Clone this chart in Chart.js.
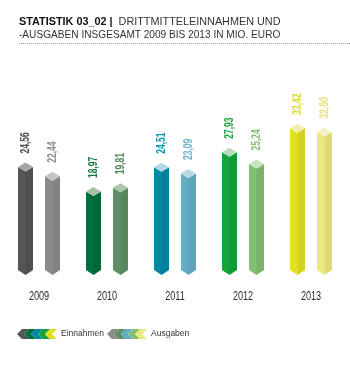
<!DOCTYPE html>
<html>
<head>
<meta charset="utf-8">
<script src="https://cdn.jsdelivr.net/npm/chart.js@4/dist/chart.umd.min.js"></script>
<style>
  body { margin: 0; background: #fff; }
  #wrap { position: relative; width: 350px; height: 374px; overflow: hidden; }
  .tline {
    position: absolute; left: 19px; white-space: nowrap;
    font: 11px "Liberation Sans", Arial, sans-serif; line-height: 13px; color: #333;
    transform-origin: left top;
  }
  .tline b { color: #111; }
  #rule { position: absolute; left: 19px; top: 43px; width: 331px; border-top: 1px dotted #999; }
  canvas { position: absolute; left: 0; top: 0; }
</style>
</head>
<body>
<div id="wrap">
  <canvas id="myChart" width="350" height="374"></canvas>
  <div class="tline" style="top:14.7px; transform:scaleX(0.985);"><b>STATISTIK 03_02 |</b>&nbsp; DRITTMITTELEINNAHMEN UND</div>
  <div class="tline" style="top:27.7px; transform:scaleX(0.92);">-AUSGABEN INSGESAMT 2009 BIS 2013 IN MIO. EURO</div>
  <div id="rule"></div>
</div>
<script>
// data
var years = ["2009", "2010", "2011", "2012", "2013"];
var einnahmen = [24.56, 18.97, 24.51, 27.93, 33.42];
var ausgaben = [22.44, 19.81, 23.09, 25.24, 32.60];
var seriesNames = ["Einnahmen", "Ausgaben"];

// colours per year
var einBody = ["#555555", "#006f3c", "#0088a4", "#14a43a", "#e1df22"];
var einCap = ["#a4a4a4", "#a9bfa8", "#b0d8e3", "#b7dfb5", "#f1efb4"];
var einLabel = ["#4d4d4d", "#137a40", "#0c93b3", "#1ba23c", "#dcdb2b"];
var ausBody = ["#8b8b8b", "#5c8f64", "#64aec5", "#82bf70", "#ebe97d"];
var ausCap = ["#c4c4c4", "#aec6ae", "#b9dae5", "#cbe4c0", "#f5f3c6"];
var ausLabel = ["#8e8e8e", "#4c8a58", "#6cb3c8", "#85bf71", "#e4e27a"];

var sans = '"Liberation Sans", Arial, sans-serif';

// little strip of chevrons for the legend
function chevronStrip(colors) {
  var c = document.createElement("canvas");
  c.width = 40;
  c.height = 10;
  var g = c.getContext("2d");
  colors.forEach(function (col, i) {
    var x = i * 7;
    g.fillStyle = col;
    g.beginPath();
    g.moveTo(x, 5);
    g.lineTo(x + 5, 0);
    g.lineTo(x + 12, 0);
    g.lineTo(x + 7, 5);
    g.lineTo(x + 12, 10);
    g.lineTo(x + 5, 10);
    g.closePath();
    g.fill();
  });
  return c;
}
var strips = [chevronStrip(einBody), chevronStrip(ausBody)];

function fmt(v) {
  return v.toFixed(2).replace(".", ",");
}

// draws each bar as a column with a diamond cap and a pointed foot
var chevronBars = {
  id: "chevronBars",
  afterLayout: function (chart) {
    chart.legend.left += 9;
    chart.legend.right += 9;
  },
  afterDatasetsDraw: function (chart) {
    var ctx = chart.ctx;
    var body = [einBody, ausBody];
    var cap = [einCap, ausCap];
    var lab = [einLabel, ausLabel];
    chart.data.datasets.forEach(function (ds, di) {
      var meta = chart.getDatasetMeta(di);
      meta.data.forEach(function (bar, i) {
        var p = bar.getProps(["x", "y", "base", "width"], true);
        var l = p.x - p.width / 2, r = p.x + p.width / 2, h = 4.5;
        ctx.save();
        ctx.fillStyle = body[di][i];
        ctx.beginPath();
        ctx.moveTo(l, p.y + h);
        ctx.lineTo(p.x, p.y + 2 * h);
        ctx.lineTo(r, p.y + h);
        ctx.lineTo(r, p.base);
        ctx.lineTo(p.x, p.base + 5);
        ctx.lineTo(l, p.base);
        ctx.closePath();
        ctx.fill();
        // slightly darker right half
        ctx.fillStyle = "rgba(0,0,0,0.06)";
        ctx.beginPath();
        ctx.moveTo(p.x, p.y + 2 * h);
        ctx.lineTo(r, p.y + h);
        ctx.lineTo(r, p.base);
        ctx.lineTo(p.x, p.base + 5);
        ctx.closePath();
        ctx.fill();
        // cap
        ctx.fillStyle = cap[di][i];
        ctx.beginPath();
        ctx.moveTo(p.x, p.y);
        ctx.lineTo(r, p.y + h);
        ctx.lineTo(p.x, p.y + 2 * h);
        ctx.lineTo(l, p.y + h);
        ctx.closePath();
        ctx.fill();
        // value label, rotated and squeezed
        ctx.translate(p.x, p.y - 9);
        ctx.rotate(-Math.PI / 2);
        ctx.scale(0.68, 1);
        ctx.fillStyle = lab[di][i];
        ctx.font = "bold 12.5px " + sans;
        ctx.textAlign = "left";
        ctx.textBaseline = "middle";
        ctx.fillText(fmt(ds.data[i]), 0, 0.5);
        ctx.restore();
      });
    });
  },
  afterDraw: function (chart) {
    // year labels under the bars, squeezed like a condensed face
    var ctx = chart.ctx;
    var xs = chart.scales.x;
    ctx.save();
    ctx.fillStyle = "#2b2b2b";
    ctx.font = "13px " + sans;
    ctx.textAlign = "center";
    ctx.textBaseline = "middle";
    chart.data.labels.forEach(function (lbl, i) {
      ctx.save();
      ctx.translate(xs.getPixelForTick(i), xs.top + 26);
      ctx.scale(0.7, 1);
      ctx.fillText(lbl, 0, 0);
      ctx.restore();
    });
    ctx.restore();
  }
};

var ctx = document.getElementById("myChart").getContext("2d");
var myChart = new Chart(ctx, {
  type: "bar",
  data: {
    labels: years,
    datasets: [
      {
        label: seriesNames[0],
        data: einnahmen,
        backgroundColor: "rgba(0,0,0,0)",
        categoryPercentage: 0.794,
        barPercentage: 0.556,
      },
      {
        label: seriesNames[1],
        data: ausgaben,
        backgroundColor: "rgba(0,0,0,0)",
        categoryPercentage: 0.794,
        barPercentage: 0.556,
      },
    ],
  },
  options: {
    responsive: false,
    animation: false,
    layout: {
      padding: { top: 95, left: 5, right: 5, bottom: 25.75 },
    },
    scales: {
      x: {
        grid: { display: false, drawTicks: false },
        border: { display: false },
        ticks: { display: false },
        afterFit: function (scale) {
          scale.height = 56.5;
        },
      },
      y: {
        display: false,
        min: 0,
        max: 40,
      },
    },
    plugins: {
      tooltip: { enabled: false },
      legend: {
        position: "bottom",
        align: "start",
        labels: {
          usePointStyle: true,
          pointStyleWidth: 39.5,
          padding: 3.25,
          color: "#333",
          font: { family: sans, size: 8.5 },
          generateLabels: function (chart) {
            return chart.data.datasets.map(function (ds, i) {
              return {
                text: ds.label,
                pointStyle: strips[i],
                fillStyle: "rgba(0,0,0,0)",
                strokeStyle: "rgba(0,0,0,0)",
                lineWidth: 0,
                hidden: false,
                datasetIndex: i,
                fontColor: "#333",
              };
            });
          },
        },
      },
    },
  },
  plugins: [chevronBars],
});
</script>
</body>
</html>
